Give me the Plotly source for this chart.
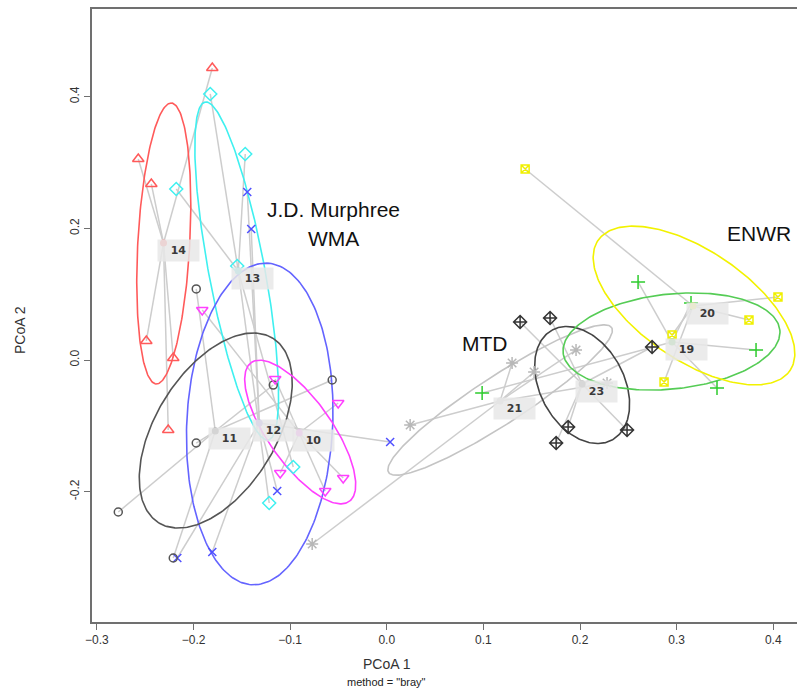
import numpy as np
import plotly.graph_objects as go

# ---------------- data (PCoA site scores) ----------------
group_ids = ["14", "13", "12", "11", "10", "21", "23", "19", "20"]

site_x = [
    [-0.1806, -0.2572, -0.2437, -0.2489, -0.2210, -0.2262],   # 14
    [-0.1827, -0.1465, -0.2179, -0.1548, -0.0968, -0.1217],   # 13
    [-0.1444, -0.1403, -0.2168, -0.1806, -0.1134, 0.0035],    # 12
    [-0.1972, -0.1175, -0.0565, -0.1972, -0.2779, -0.2210],   # 11
    [-0.1910, -0.1155, -0.0503, -0.1103, -0.0451, -0.0637],   # 10
    [0.0242, 0.1297, 0.1525, 0.1959, 0.2280, -0.0772],        # 21
    [0.1380, 0.1690, 0.1877, 0.1753, 0.2487, 0.2746],         # 23
    [0.0987, 0.2601, 0.3149, 0.3822, 0.3418],                 # 19
    [0.1432, 0.4049, 0.3749, 0.2953, 0.2870],                 # 20
]
site_y = [
    [0.4436, 0.3053, 0.2674, 0.0289, 0.0030, -0.1063],
    [0.4041, 0.3129, 0.2598, 0.1428, -0.1625, -0.2172],
    [0.2552, 0.1990, -0.3008, -0.2917, -0.1990, -0.1246],
    [0.1079, -0.0380, -0.0304, -0.1261, -0.2309, -0.3008],
    [0.0760, -0.0289, -0.0653, -0.1717, -0.1792, -0.1990],
    [-0.0987, -0.0046, -0.0182, 0.0152, -0.0349, -0.2795],
    [0.0577, 0.0638, -0.1018, -0.1261, -0.1063, 0.0197],
    [-0.0501, 0.1185, 0.0866, 0.0152, -0.0425],
    [0.2901, 0.0957, 0.0608, 0.0380, -0.0334],
]

centroid_x = [-0.2311, -0.1537, -0.1320, -0.1775, -0.0906, 0.1173, 0.2022, 0.2953, 0.3170]
centroid_y = [0.1777, 0.1352, -0.0957, -0.1079, -0.1109, -0.0623, -0.0365, 0.0273, 0.0820]

# ellipse centres and conjugate semi-axis vectors (data units)
ell_cx = [-0.2308, -0.1553, -0.1315, -0.1770, -0.0896, 0.1173, 0.2022, 0.2947, 0.3180]
ell_cy = [0.1770, 0.1352, -0.0972, -0.1071, -0.1094, -0.0608, -0.0380, 0.0281, 0.0828]
ell_ux = [0.00787, -0.03272, 0.00784, 0.05899, -0.05069, 0.11540, -0.03100, 0.11215, 0.09938]
ell_uy = [0.2134, 0.2567, 0.2443, 0.14023, 0.10550, 0.11003, 0.08349, 0.01730, -0.09878]
ell_vx = [-0.02686, -0.02848, -0.07544, -0.05281, -0.02705, -0.01352, -0.03815, -0.00514, 0.03190]
ell_vy = [0.00214, -0.00783, 0.00522, 0.04790, -0.02802, 0.03058, -0.03054, 0.07176, 0.06919]

x_ticks = [-0.3, -0.2, -0.1, 0.0, 0.1, 0.2, 0.3, 0.4]
x_ticktext = ["\u22120.3", "\u22120.2", "\u22120.1", "0.0", "0.1", "0.2", "0.3", "0.4"]
y_ticks = [-0.2, 0.0, 0.2, 0.4]
y_ticktext = ["-0.2", "0.0", "0.2", "0.4"]

site_labels = [("J.D. Murphree", -0.0555, 0.2279), ("WMA", -0.0555, 0.1853),
               ("MTD", 0.1018, 0.0258), ("ENWR", 0.3853, 0.1929)]

# ---------------- styles ----------------
point_colors = ["#ff5a5a", "#3ff0f0", "#5050ff", "#555555", "#ff40ff",
                "#b8b8b8", "#333333", "#2ecc2e", "#f0f000"]
ellipse_colors = ["#ff5a5a", "#3ff0f0", "#6464ff", "#555555", "#ff40ff",
                  "#c4c4c4", "#444444", "#55cc55", "#f2f200"]
centroid_colors = ["#ff6666", "#55dddd", "#9a86e0", "#666666", "#ee70ee",
                   "#cccccc", "#777777", "#6acb6a", "#eeee55"]
symbols = ["triangle-up-open", "diamond-open", "x-thin-open", "circle-open",
           "triangle-down-open", "asterisk-open", "diamond-cross-open",
           "cross-thin-open", "square-x-open"]
sizes = [10, 10, 8, 8, 10, 10, 10, 10, 8]

fig = go.Figure()

# spider lines
sx, sy = [], []
for g in range(len(group_ids)):
    for px, py in zip(site_x[g], site_y[g]):
        sx += [centroid_x[g], px, None]
        sy += [centroid_y[g], py, None]
fig.add_trace(go.Scatter(x=sx, y=sy, mode="lines",
                         line=dict(color="#cdcdcd", width=1.5),
                         hoverinfo="skip", showlegend=False))

# ellipses
t = np.linspace(0, 2 * np.pi, 240)
for g in range(len(group_ids)):
    ex = ell_cx[g] + ell_ux[g] * np.cos(t) + ell_vx[g] * np.sin(t)
    ey = ell_cy[g] + ell_uy[g] * np.cos(t) + ell_vy[g] * np.sin(t)
    fig.add_trace(go.Scatter(x=ex, y=ey, mode="lines",
                             line=dict(color=ellipse_colors[g], width=1.6),
                             hoverinfo="skip", showlegend=False))

# site points
for g in range(len(group_ids)):
    fig.add_trace(go.Scatter(
        x=site_x[g], y=site_y[g], mode="markers", showlegend=False,
        marker=dict(symbol=symbols[g], size=sizes[g], color=point_colors[g],
                    line=dict(color=point_colors[g], width=1.5))))

# centroids
fig.add_trace(go.Scatter(x=centroid_x, y=centroid_y, mode="markers", showlegend=False,
                         marker=dict(symbol="circle", size=7, color=centroid_colors,
                                     line=dict(width=0))))

annotations = []
for g in range(len(group_ids)):
    annotations.append(dict(
        x=centroid_x[g], y=centroid_y[g], xref="x", yref="y",
        text="<b>" + group_ids[g] + "</b>", showarrow=False, xanchor="left", yanchor="top",
        xshift=-7, yshift=4, width=35, height=15, borderpad=3,
        bgcolor="rgba(232,232,232,0.85)",
        font=dict(family="DejaVu Sans", size=11, color="#3a3a3a")))

for txt, lx, ly in site_labels:
    annotations.append(dict(x=lx, y=ly, xref="x", yref="y", text=txt, showarrow=False,
                            xanchor="center", yanchor="middle",
                            font=dict(family="Liberation Sans", size=21, color="#111111")))

annotations.append(dict(x=0.0, y=0, xref="x", yref="paper", text="PCoA 1", showarrow=False,
                        yshift=-42, yanchor="middle",
                        font=dict(family="Liberation Sans", size=14, color="#333333")))
annotations.append(dict(x=0.0, y=0, xref="x", yref="paper", text='method = "bray"',
                        showarrow=False, yshift=-60, yanchor="middle",
                        font=dict(family="Liberation Sans", size=11, color="#222222")))
annotations.append(dict(x=0, y=0.0456, xref="paper", yref="y", text="PCoA 2", showarrow=False,
                        xshift=-72, textangle=-90, xanchor="center", yanchor="middle",
                        font=dict(family="Liberation Sans", size=14, color="#333333")))

fig.update_layout(
    width=797, height=690, autosize=False,
    margin=dict(l=92, r=0, t=9, b=68),
    plot_bgcolor="white", paper_bgcolor="white",
    annotations=annotations,
    xaxis=dict(range=[-0.3051, 0.4246], tickvals=x_ticks, ticktext=x_ticktext,
               showgrid=False, zeroline=False, showline=True, mirror=True,
               linecolor="#707070", linewidth=1.5, ticks="outside", ticklen=6,
               tickcolor="#707070", tickwidth=1.2,
               tickfont=dict(family="Liberation Sans", size=12, color="#333333")),
    yaxis=dict(range=[-0.398, 0.5332], tickvals=y_ticks, ticktext=y_ticktext,
               tickangle=-90, showgrid=False, zeroline=False, showline=True,
               linecolor="#707070", linewidth=1.5, ticks="outside", ticklen=6,
               tickcolor="#707070", tickwidth=1.2,
               tickfont=dict(family="Liberation Sans", size=12, color="#333333")),
)

fig.write_html("out.html")
